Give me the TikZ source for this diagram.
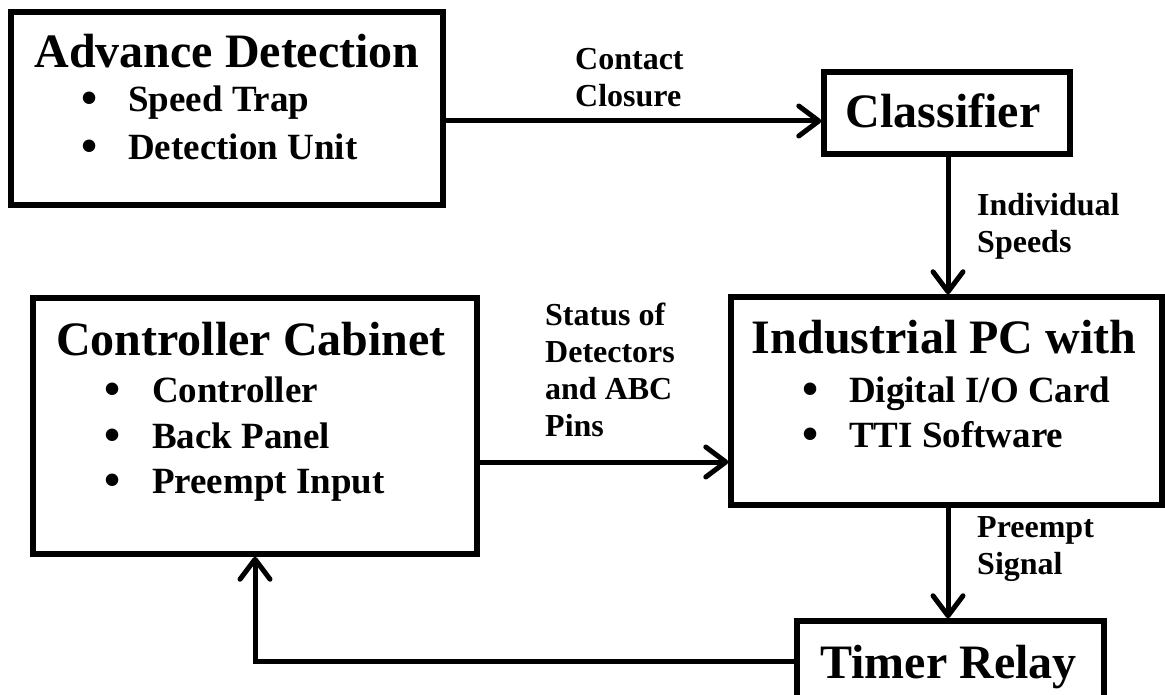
\documentclass[tikz,border=0pt]{standalone}
\usepackage{fontspec}
\setmainfont{Liberation Serif}
\usetikzlibrary{arrows.meta}
\tikzset{
  box/.style={draw, line width=5.5pt, rectangle, inner sep=0pt, anchor=center},
  conn/.style={line width=5pt, line cap=rect,
    -{Straight Barb[length=20pt 0, width=30pt 0, line cap=round, line join=round]}},
  title/.style={font=\fontsize{48}{48}\selectfont\bfseries, anchor=base, inner sep=0pt},
  item/.style={font=\fontsize{37}{37}\selectfont\bfseries, anchor=base west, inner sep=0pt},
  dot/.style={font=\fontsize{46}{46}\selectfont\bfseries, anchor=base, inner sep=0pt},
  lbl/.style={font=\fontsize{32}{37}\selectfont\bfseries, anchor=base west, inner sep=0pt, align=left},
}
\begin{document}
\begin{tikzpicture}[x=1pt, y=-1pt]
  \clip (0,0) rectangle (1165,695);
  \fill[white] (0,0) rectangle (1165,695);

  % blocks
  \node[box, minimum width=432pt, minimum height=193pt] (ad)  at (227,108.5) {};
  \node[box, minimum width=246pt, minimum height=82pt]  (cls) at (947,113) {};
  \node[box, minimum width=431pt, minimum height=208pt] (ipc) at (946.5,401) {};
  \node[box, minimum width=444pt, minimum height=256pt] (cc)  at (255,426) {};
  \node[box, minimum width=307pt, minimum height=120pt] (tr)  at (950.5,681) {};

  % block texts
  \node[title] (adt) at (227,68) {Advance Detection};
  \node[dot]  (adb1) at (90,114) {•};
  \node[item] (adi1) at (128,112) {Speed Trap};
  \node[dot]  (adb2) at (90,162) {•};
  \node[item] (adi2) at (128,160) {Detection Unit};

  \node[title] (clst) at (943,128) {Classifier};

  \node[title] (ipct) at (944,353) {Industrial PC with};
  \node[dot]  (ipcb1) at (811,404) {•};
  \node[item] (ipci1) at (849,402) {Digital I/O Card};
  \node[dot]  (ipcb2) at (811,449) {•};
  \node[item] (ipci2) at (849,447) {TTI Software};

  \node[title] (cct) at (251,355) {Controller Cabinet};
  \node[dot]  (ccb1) at (113,404) {•};
  \node[item] (cci1) at (152,402) {Controller};
  \node[dot]  (ccb2) at (113,450) {•};
  \node[item] (cci2) at (152,448) {Back Panel};
  \node[dot]  (ccb3) at (113,495) {•};
  \node[item] (cci3) at (152,493) {Preempt Input};

  \node[title] (trt) at (948.5,678) {Timer Relay};

  % connector labels (base = last line)
  \node[lbl] (l1) at (575,107) {Contact\\Closure};
  \node[lbl] (l2) at (977,253) {Individual\\Speeds};
  \node[lbl] (l3) at (545,436) {Status of\\Detectors\\and ABC\\Pins};
  \node[lbl] (l4) at (977,574) {Preempt\\Signal};

  % connectors
  \draw[conn] (ad.east |- 0,121) -- (cls.west |- 0,121);
  \draw[conn] (cls.south -| 948,0) -- (ipc.north -| 948,0);
  \draw[conn] (cc.east |- 0,462) -- (ipc.west |- 0,462);
  \draw[conn] (ipc.south -| 948,0) -- (tr.north -| 948,0);
  \draw[conn] (tr.west |- 0,661) -| (cc.south);
\end{tikzpicture}
\end{document}
